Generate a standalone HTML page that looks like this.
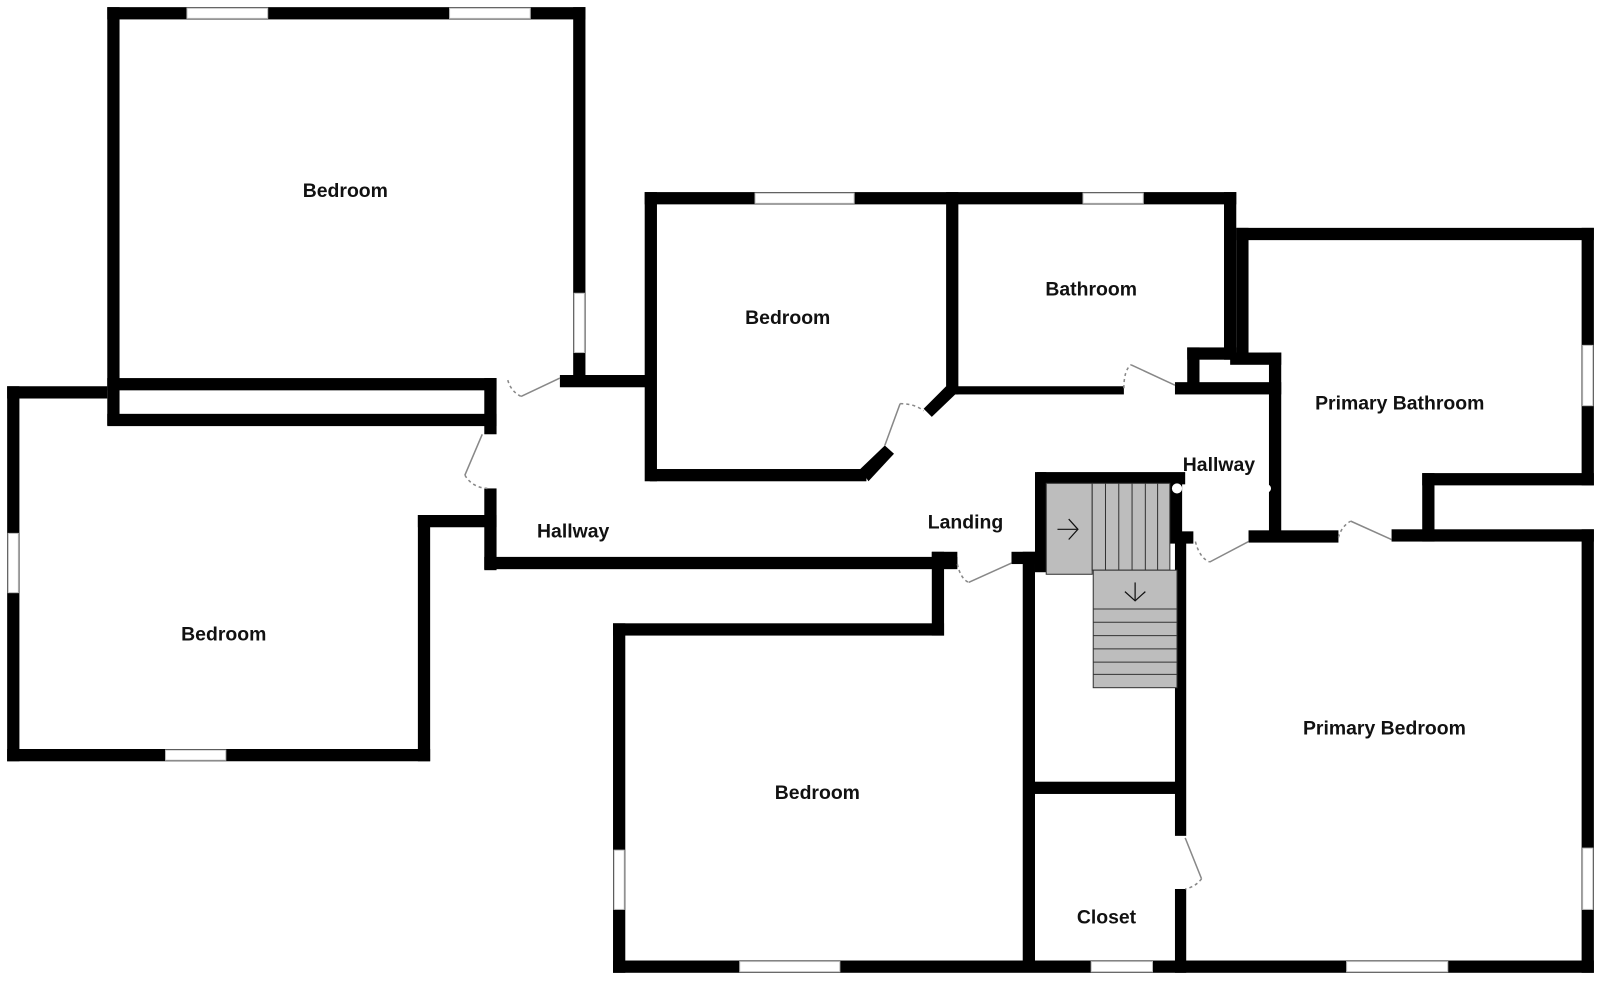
<!DOCTYPE html>
<html><head><meta charset="utf-8"><style>
html,body{margin:0;padding:0;background:#fff;width:1600px;height:983px;overflow:hidden}
svg{display:block}
text{font-family:"Liberation Sans",Arial,sans-serif;font-weight:bold;font-size:19px;fill:#111;text-anchor:middle}
</style></head><body>
<svg width="1600" height="983" viewBox="0 0 1566 962" preserveAspectRatio="none">
<g fill="#000">
<rect x="105" y="7" width="468" height="12"/>
<rect x="105" y="7" width="12" height="409"/>
<rect x="561" y="7" width="12" height="369"/>
<rect x="105" y="370" width="381" height="12"/>
<rect x="105" y="405" width="381" height="12"/>
<rect x="474" y="370" width="12" height="55"/>
<rect x="7" y="378" width="98" height="12"/>
<rect x="7" y="378" width="12" height="367"/>
<rect x="7" y="733" width="414" height="12"/>
<rect x="409" y="504" width="12" height="241"/>
<rect x="409" y="504" width="77" height="12"/>
<rect x="474" y="478" width="12" height="80"/>
<rect x="474" y="545" width="463" height="12"/>
<rect x="548" y="367" width="92" height="12"/>
<rect x="631" y="188" width="579" height="12"/>
<rect x="631" y="188" width="12" height="283"/>
<rect x="636" y="459" width="212" height="12"/>
<polygon points="842,459 866,436 875,444 850,471"/>
<polygon points="904,400 926,378 935,386 912,408"/>
<rect x="926" y="188" width="12" height="198"/>
<rect x="932" y="378" width="168" height="8"/>
<rect x="1150" y="374" width="104" height="12"/>
<rect x="1198" y="188" width="12" height="164"/>
<rect x="1162" y="340" width="12" height="44"/>
<rect x="1162" y="340" width="48" height="12"/>
<rect x="1204" y="345" width="50" height="12"/>
<rect x="1242" y="345" width="12" height="185"/>
<rect x="1210" y="223" width="350" height="12"/>
<rect x="1210" y="223" width="12" height="125"/>
<rect x="1548" y="223" width="12" height="252"/>
<rect x="1392" y="463" width="168" height="12"/>
<rect x="1392" y="463" width="12" height="67"/>
<rect x="1222" y="519" width="88" height="12"/>
<rect x="1362" y="518" width="198" height="12"/>
<rect x="1548" y="518" width="12" height="434"/>
<rect x="600" y="940" width="960" height="12"/>
<rect x="1150" y="522" width="11" height="296"/>
<rect x="1150" y="870" width="11" height="82"/>
<rect x="1145" y="520" width="23" height="12"/>
<rect x="1015" y="462" width="145" height="12"/>
<rect x="1013" y="462" width="11" height="98"/>
<rect x="1145" y="472" width="12" height="58"/>
<rect x="1001" y="540" width="12" height="410"/>
<rect x="990" y="540" width="23" height="12"/>
<rect x="1003" y="765" width="157" height="12"/>
<rect x="912" y="540" width="25" height="12"/>
<rect x="912" y="540" width="12" height="82"/>
<rect x="600" y="610" width="324" height="12"/>
<rect x="600" y="610" width="12" height="342"/>
</g>
<g fill="#fff" stroke="#bbb" stroke-width="1">
<rect x="183" y="8" width="79" height="10"/>
<rect x="440" y="8" width="79" height="10"/>
<rect x="562" y="287" width="10" height="58"/>
<rect x="8" y="522" width="10" height="58"/>
<rect x="162" y="734" width="59" height="10"/>
<rect x="739" y="189" width="97" height="10"/>
<rect x="1060" y="189" width="59" height="10"/>
<rect x="1549" y="338" width="10" height="59"/>
<rect x="1549" y="830" width="10" height="60"/>
<rect x="1318" y="941" width="99" height="10"/>
<rect x="724" y="941" width="98" height="10"/>
<rect x="1068" y="941" width="60" height="10"/>
<rect x="601" y="832" width="10" height="58"/>
</g>
<g fill="none" stroke="#888" stroke-width="1.5">
<line x1="548" y1="370" x2="510" y2="388"/>
<path d="M497,372 Q500,383 510,388" stroke-dasharray="3,3"/>
<line x1="472" y1="425" x2="455" y2="465"/>
<path d="M455,465 Q462,477 477,478" stroke-dasharray="3,3"/>
<line x1="881" y1="395" x2="866" y2="436"/>
<path d="M881,395 Q895,395 904,402" stroke-dasharray="3,3"/>
<line x1="1107" y1="357" x2="1150" y2="377"/>
<path d="M1100,380 Q1100,362 1107,357" stroke-dasharray="3,3"/>
<line x1="990" y1="551" x2="948" y2="570"/>
<path d="M937,552 Q940,566 948,570" stroke-dasharray="3,3"/>
<line x1="1222" y1="530" x2="1184" y2="550"/>
<path d="M1170,530 Q1174,546 1184,550" stroke-dasharray="3,3"/>
<line x1="1322" y1="510" x2="1362" y2="528"/>
<path d="M1310,526 Q1313,515 1322,510" stroke-dasharray="3,3"/>
<line x1="1160" y1="820" x2="1176" y2="860"/>
<path d="M1176,860 Q1170,868 1160,870" stroke-dasharray="3,3"/>
</g>
<g fill="#bdbdbd" stroke="#333" stroke-width="1">
<rect x="1024" y="473" width="45" height="89"/>
<rect x="1069" y="473" width="76" height="85"/>
<rect x="1070" y="558" width="82" height="115"/>
</g>
<g stroke="#333" stroke-width="1">
<line x1="1082" y1="473" x2="1082" y2="558"/>
<line x1="1095" y1="473" x2="1095" y2="558"/>
<line x1="1108" y1="473" x2="1108" y2="558"/>
<line x1="1121" y1="473" x2="1121" y2="558"/>
<line x1="1133" y1="473" x2="1133" y2="558"/>
<line x1="1070" y1="596" x2="1152" y2="596"/>
<line x1="1070" y1="609" x2="1152" y2="609"/>
<line x1="1070" y1="622" x2="1152" y2="622"/>
<line x1="1070" y1="635" x2="1152" y2="635"/>
<line x1="1070" y1="648" x2="1152" y2="648"/>
<line x1="1070" y1="660" x2="1152" y2="660"/>
</g>
<g fill="none" stroke="#111" stroke-width="1.2">
<line x1="1035" y1="518" x2="1054" y2="518"/>
<polyline points="1046,508 1055,518 1046,528"/>
<line x1="1111" y1="570" x2="1111" y2="587"/>
<polyline points="1101,579 1111,588 1121,579"/>
</g>
<circle cx="1152" cy="478" r="5" fill="#fff"/>
<circle cx="1240" cy="478" r="4" fill="#fff"/>
<text x="338" y="193">Bedroom</text>
<text x="771" y="317">Bedroom</text>
<text x="1068" y="289">Bathroom</text>
<text x="1370" y="401">Primary Bathroom</text>
<text x="1193" y="461">Hallway</text>
<text x="945" y="517">Landing</text>
<text x="561" y="526">Hallway</text>
<text x="219" y="627">Bedroom</text>
<text x="1355" y="719">Primary Bedroom</text>
<text x="800" y="782">Bedroom</text>
<text x="1083" y="904">Closet</text>
</svg>
</body></html>
